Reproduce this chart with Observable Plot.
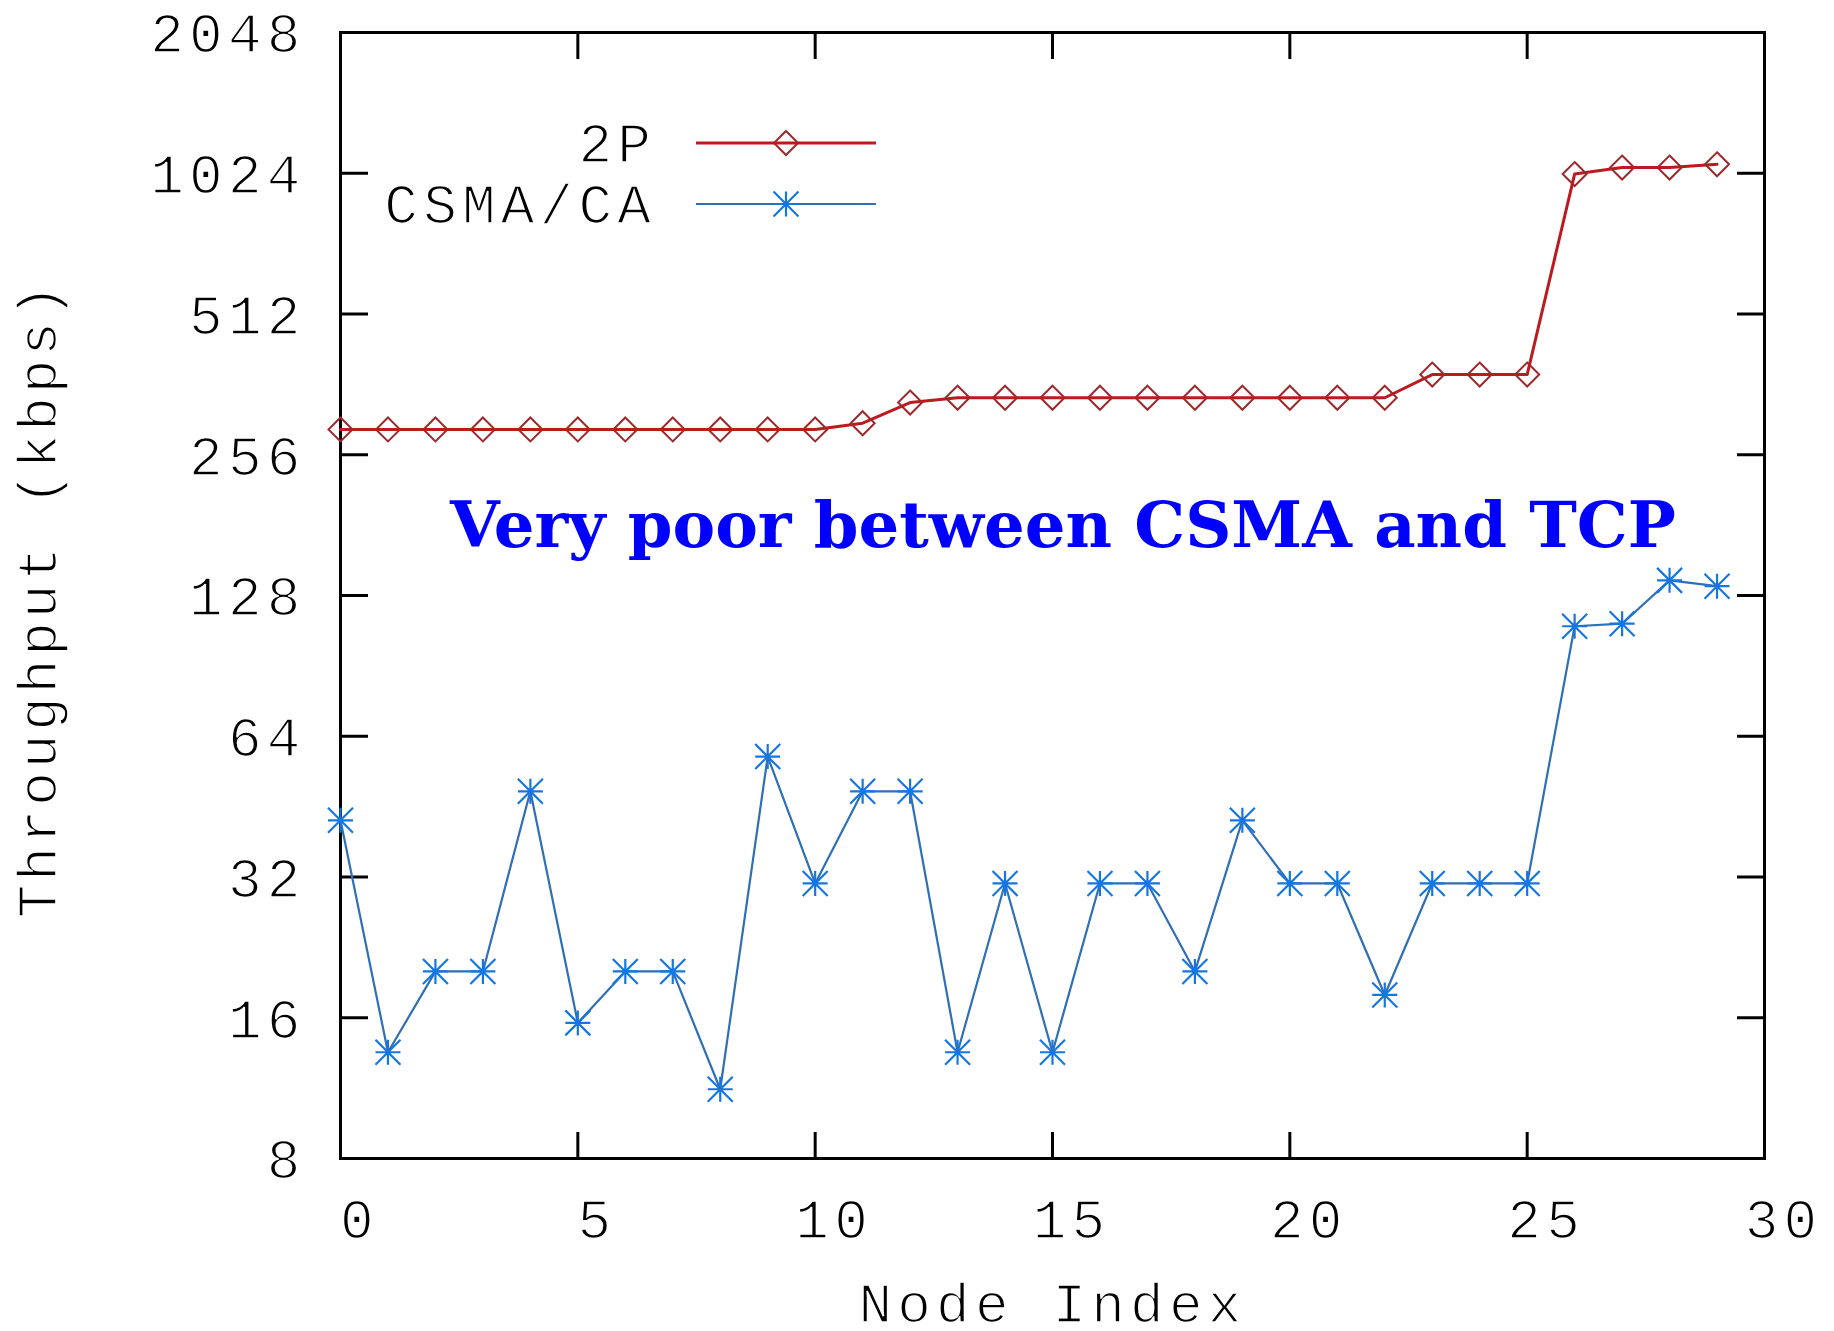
<!DOCTYPE html>
<html>
<head>
<meta charset="utf-8">
<script src="https://cdn.jsdelivr.net/npm/d3@7"></script>
<script src="https://cdn.jsdelivr.net/npm/@observablehq/plot@0.6"></script>
<style>
  html, body { margin: 0; padding: 0; background: #ffffff; }
  #wrap { position: relative; width: 1834px; height: 1331px; overflow: hidden; }
  #legend { position: absolute; left: 0; top: 0; pointer-events: none; }
  .thin { stroke: #ffffff; stroke-width: 1.6px; paint-order: normal; }
</style>
</head>
<body>
<div id="wrap"></div>
<script>
// ---- data ----
const nodeIndex = [0,1,2,3,4,5,6,7,8,9,10,11,12,13,14,15,16,17,18,19,20,21,22,23,24,25,26,27,28,29];
const throughput2P = [290,290,290,290,290,290,290,290,290,290,290,299,331,339,339,339,339,339,339,339,339,339,339,380,380,380,1020,1053,1053,1070];
const throughputCSMA = [42.3,13.5,20.1,20.1,48.8,15.6,20.1,20.1,11.25,57.9,31,48.8,48.8,13.5,31,13.5,31,31,20.1,42.3,31,31,17.9,31,31,31,110,111.4,137.9,134];
const seriesNames = ["2P", "CSMA/CA"];
const xTicks = [0,5,10,15,20,25,30];
const yTicks = [8,16,32,64,128,256,512,1024,2048];
const axisTitles = ["Node Index", "Throughput (kbps)"];
const annotText = ["Very poor between CSMA and TCP"];
const annotX = [15.22];
const annotY = [180];

// ---- styles ----
const redLine = "#bb1a1f", redMark = "#9c2a2c";
const blueLine = "#2f6fb6", blueMark = "#1676e0";
const monoFont = "'Liberation Mono', 'DejaVu Sans Mono', monospace";
const monoSize = 56;
const spacing = "5.2px";

const dataRows = (vals) => nodeIndex.map((n, i) => ({x: n, y: vals[i]}));
const rows2P = dataRows(throughput2P);
const rowsCSMA = dataRows(throughputCSMA);
const annot = annotText.map((t, i) => ({t, x: annotX[i], y: annotY[i]}));

const diamond = {
  draw(ctx, size) {
    const r = Math.sqrt(size / Math.PI);
    ctx.moveTo(0, -r); ctx.lineTo(r, 0); ctx.lineTo(0, r); ctx.lineTo(-r, 0); ctx.closePath();
  }
};
const asterisk = {
  draw(ctx, size) {
    const r = Math.sqrt(size / Math.PI);
    ctx.moveTo(-r, 0); ctx.lineTo(r, 0);
    ctx.moveTo(0, -r); ctx.lineTo(0, r);
    ctx.moveTo(-r, -r); ctx.lineTo(r, r);
    ctx.moveTo(-r, r); ctx.lineTo(r, -r);
  }
};

const fmt = d => String(d);

const chart = Plot.plot({
  width: 1834,
  height: 1331,
  marginLeft: 340,
  marginRight: 70,
  marginTop: 32,
  marginBottom: 173,
  style: {background: "white", fontFamily: monoFont, fontSize: monoSize + "px", color: "black", letterSpacing: spacing},
  x: {domain: [0, 30]},
  y: {type: "log", base: 2, domain: [8, 2048]},
  marks: [
    // inward ticks on all four sides
    Plot.axisX({anchor: "bottom", ticks: xTicks, tickSize: -26, fill: "none", strokeWidth: 3, label: null}),
    Plot.axisX({anchor: "top", ticks: xTicks, tickSize: -26, fill: "none", strokeWidth: 3, label: null}),
    Plot.axisY({anchor: "left", ticks: yTicks, tickSize: -28, fill: "none", strokeWidth: 3, label: null}),
    Plot.axisY({anchor: "right", ticks: yTicks, tickSize: -28, fill: "none", strokeWidth: 3, label: null}),
    // tick labels
    Plot.axisX({anchor: "bottom", ticks: xTicks, tickSize: 0, tickPadding: 40, dx: 19, tickFormat: fmt, label: null,
      fontSize: monoSize, fontFamily: monoFont}),
    Plot.axisY({anchor: "left", ticks: yTicks, tickSize: 0, tickPadding: 35, dy: 2, tickFormat: fmt, label: null,
      fontSize: monoSize, fontFamily: monoFont}),
    Plot.frame({stroke: "black", strokeWidth: 3}),
    // axis titles
    Plot.text([axisTitles[0]], {frameAnchor: "bottom", dy: 146, dx: 0, text: d => d, lineAnchor: "middle",
      textAnchor: "middle", fontSize: monoSize, fontFamily: monoFont}),
    Plot.text([axisTitles[1]], {frameAnchor: "left", dx: -302, dy: 4, rotate: -90, text: d => d, lineAnchor: "middle",
      textAnchor: "middle", fontSize: monoSize, fontFamily: monoFont}),
    // series
    Plot.line(rows2P, {x: "x", y: "y", stroke: redLine, strokeWidth: 3}),
    Plot.dot(rows2P, {x: "x", y: "y", symbol: diamond, r: 12, fill: "none", stroke: redMark, strokeWidth: 2}),
    Plot.line(rowsCSMA, {x: "x", y: "y", stroke: blueLine, strokeWidth: 2.2}),
    Plot.dot(rowsCSMA, {x: "x", y: "y", symbol: asterisk, r: 12.5, fill: "none", stroke: blueMark, strokeWidth: 2.2}),
    // annotation
    Plot.text(annot, {x: "x", y: "y", text: "t", fill: "#0000ff", fontFamily: "'DejaVu Serif', serif",
      fontWeight: "bold", fontSize: 64, lineAnchor: "middle", textAnchor: "middle"})
  ]
});

const wrap = document.getElementById("wrap");
wrap.appendChild(chart);

// thin the monospaced labels, keep the annotation unspaced
d3.select(chart).selectAll("text").each(function () {
  const t = this.textContent;
  if (t === annotText[0]) {
    d3.select(this).style("letter-spacing", "0px");
  } else {
    d3.select(this).classed("thin", true);
    if (t === axisTitles[1]) d3.select(this).style("letter-spacing", "3.9px");
  }
});

// ---- legend (inside plot area, top-left) ----
const legend = d3.select(wrap).append("svg")
  .attr("id", "legend").attr("width", 1834).attr("height", 1331);
const legendItems = [
  {name: seriesNames[0], line: redLine, mark: redMark, sym: diamond, r: 12, sw: 2, lw: 3, cy: 143},
  {name: seriesNames[1], line: blueLine, mark: blueMark, sym: asterisk, r: 12.5, sw: 2.2, lw: 2.2, cy: 204}
];
const lg = legend.selectAll("g").data(legendItems).join("g")
  .attr("transform", d => `translate(0,${d.cy})`);
lg.append("text")
  .attr("class", "thin")
  .attr("x", 656).attr("y", 0).attr("dy", "0.34em")
  .attr("text-anchor", "end")
  .style("font-family", monoFont).style("font-size", monoSize + "px").style("letter-spacing", spacing)
  .text(d => d.name);
lg.append("line")
  .attr("x1", 696).attr("x2", 876).attr("y1", 0).attr("y2", 0)
  .attr("stroke", d => d.line).attr("stroke-width", d => d.lw);
lg.append("path")
  .attr("transform", "translate(786,0)")
  .attr("d", d => d3.symbol(d.sym, d.r * d.r * Math.PI)())
  .attr("fill", "none").attr("stroke", d => d.mark).attr("stroke-width", d => d.sw);
</script>
</body>
</html>
